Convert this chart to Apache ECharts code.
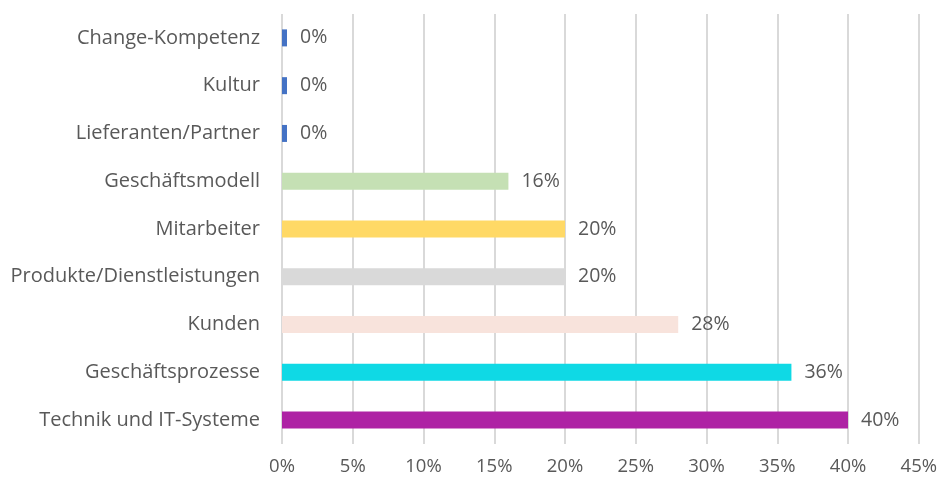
<!DOCTYPE html>
<html>
<head>
<meta charset="utf-8">
<script src="https://cdn.jsdelivr.net/npm/echarts@6/dist/echarts.min.js"></script>
<style>
  html, body { margin: 0; padding: 0; background: #fff; }
  #chart { width: 940px; height: 479px; }
</style>
</head>
<body>
<div id="chart"></div>
<script>
// bottom to top
const categories = [
  'Technik und IT-Systeme',
  'Geschäftsprozesse',
  'Kunden',
  'Produkte/Dienstleistungen',
  'Mitarbeiter',
  'Geschäftsmodell',
  'Lieferanten/Partner',
  'Kultur',
  'Change-Kompetenz'
]
const values = [40, 36, 28, 20, 20, 16, 0, 0, 0]
const barColors = [
  '#AE22A4', '#0FD9E5', '#F8E3DC', '#D9D9D9',
  '#FFD966', '#C5E0B4', '#4472C4', '#4472C4', '#4472C4'
]

const textColor = '#595959'
const font = 'Open Sans'

const chart = echarts.init(document.getElementById('chart'))
chart.setOption({
  animation: false,
  grid: { left: 282, right: 19, top: 14, bottom: 35, containLabel: false },
  xAxis: {
    type: 'value',
    min: 0,
    max: 45,
    interval: 5,
    axisLine: { show: false },
    axisTick: { show: false },
    axisLabel: {
      color: textColor, fontFamily: font, fontSize: 18.5, margin: 13,
      formatter: v => v + '%'
    },
    splitLine: { lineStyle: { color: '#D9D9D9', width: 2 } }
  },
  yAxis: {
    type: 'category',
    data: categories,
    axisLine: { show: false },
    axisTick: { show: false },
    axisLabel: { color: textColor, fontFamily: font, fontSize: 20, margin: 22 }
  },
  series: [{
    type: 'bar',
    data: values.map((v, i) => ({ value: v, itemStyle: { color: barColors[i] } })),
    barWidth: 17,
    barMinHeight: 5,
    label: {
      show: true,
      position: 'right',
      distance: 13,
      color: textColor,
      fontFamily: font,
      fontSize: 19.5,
      formatter: p => p.value + '%'
    }
  }]
})
</script>
</body>
</html>
